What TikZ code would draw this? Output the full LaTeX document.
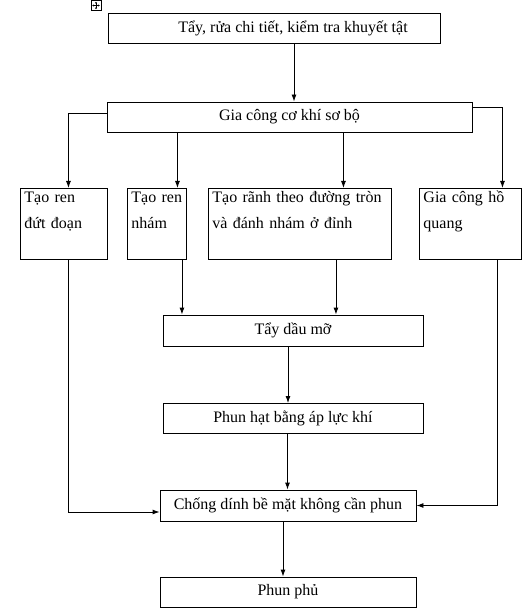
\documentclass[tikz,border=0pt]{standalone}
\usepackage{fontspec}
\setmainfont{Liberation Serif}
\usetikzlibrary{arrows.meta}

\begin{document}
\begin{tikzpicture}[x=1pt, y=-1pt, line width=0.9pt,
  >={Latex[length=7pt, width=5pt]},
  box/.style={draw, inner sep=0pt, font=\fontsize{16}{26}\selectfont},
  sidebox/.style={draw, anchor=north west, align=left, inner xsep=4pt, inner ysep=4pt,
    text height=10pt, text depth=53pt, font=\fontsize{16}{26}\selectfont},
  handletip/.style={line width=0.4pt, {Latex[length=1.6pt, width=2.2pt]}-{Latex[length=1.6pt, width=2.2pt]}}]
  \useasboundingbox (0,0) rectangle (531,612);

  % Table handle
  \node[draw, line width=0.5pt, minimum size=10pt, inner sep=0pt] (handle) at (96,5.5) {};
  \draw[handletip] ([xshift=-3.8pt]handle.center) -- ([xshift=3.8pt]handle.center);
  \draw[handletip] ([yshift=-3.8pt]handle.center) -- ([yshift=3.8pt]handle.center);

  % Main steps (top)
  \node[box, minimum width=332pt, minimum height=30pt] (tay) at (274,28)
    {\hspace*{38pt}Tẩy, rửa chi tiết, kiểm tra khuyết tật};
  \node[box, minimum width=365pt, minimum height=30pt] (giacong) at (289.5,117)
    {Gia công cơ khí sơ bộ};

  % Surface preparation variants
  \node[sidebox, text width=79pt] (rendut) at (20,188) {Tạo ren\\đứt đoạn};
  \node[sidebox, text width=51pt] (rennham) at (127,188) {Tạo ren\\nhám};
  \node[sidebox, text width=175pt] (ranh) at (208,188) {Tạo rãnh theo đường tròn\\và đánh nhám ở đỉnh};
  \node[sidebox, text width=94pt] (hoquang) at (419,188) {Gia công hồ\\quang};

  % Main steps (bottom)
  \node[box, minimum width=260pt, minimum height=31pt] (daumo) at (293,330.5) {Tẩy dầu mỡ};
  \node[box, minimum width=260pt, minimum height=30pt] (phunhat) at (293,418.5) {Phun hạt bằng áp lực khí};
  \node[box, minimum width=256pt, minimum height=31pt] (chongdinh) at (288,505.5) {Chống dính bề mặt không cần phun};
  \node[box, minimum width=256pt, minimum height=30pt] (phunphu) at (288,592) {Phun phủ};

  % Connectors, top part
  \coordinate (t1) at ([xshift=20pt]tay.south);
  \draw[->] (t1) -- (t1 |- giacong.north);
  \coordinate (g1) at ([yshift=4pt]giacong.west);
  \coordinate (r1) at ([xshift=4.5pt]rendut.north);
  \draw[->] (g1) -| (r1);
  \coordinate (r2) at ([xshift=20.5pt]rennham.north);
  \draw[->] (giacong.south -| r2) -- (r2);
  \coordinate (r3) at ([xshift=43.5pt]ranh.north);
  \draw[->] (giacong.south -| r3) -- (r3);
  \coordinate (g4) at ([yshift=10pt]giacong.east);
  \coordinate (r4) at ([xshift=32pt]hoquang.north);
  \draw[->] (g4) -| (r4);

  % Connectors, bottom part
  \coordinate (d2) at ([xshift=25pt]rennham.south);
  \draw[->] (d2) -- (d2 |- daumo.north);
  \coordinate (d3) at ([xshift=36pt]ranh.south);
  \draw[->] (d3) -- (d3 |- daumo.north);
  \coordinate (m1) at ([xshift=-5pt]daumo.south);
  \draw[->] (m1) -- (m1 |- phunhat.north);
  \coordinate (m2) at ([xshift=-5.5pt]phunhat.south);
  \draw[->] (m2) -- (m2 |- chongdinh.north);
  \coordinate (d1) at ([xshift=4.5pt]rendut.south);
  \coordinate (e1) at ([yshift=-6.5pt]chongdinh.west);
  \draw[->] (d1) |- (e1);
  \coordinate (d4) at ([xshift=27pt]hoquang.south);
  \draw[->] (d4) |- (chongdinh.east);
  \coordinate (m3) at ([xshift=-5pt]chongdinh.south);
  \draw[->] (m3) -- (m3 |- phunphu.north);
\end{tikzpicture}
\end{document}
